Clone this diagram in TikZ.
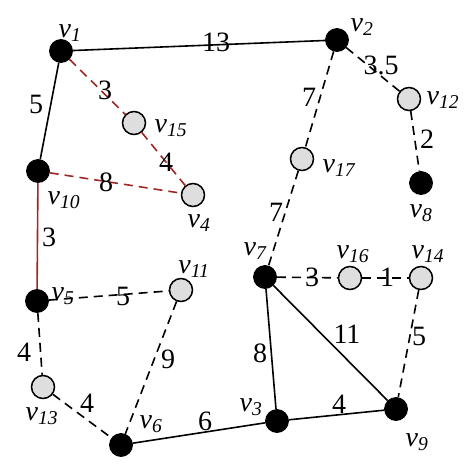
\documentclass[tikz,border=0pt]{standalone}
\usepackage{fontspec}
\setmainfont{Liberation Serif}
\begin{document}
\begin{tikzpicture}[x=1pt,y=-1pt,
  blk/.style={circle, fill=black, draw=black, line width=0.8pt, minimum size=23pt, inner sep=0pt},
  gry/.style={circle, fill=black!13, draw=black, line width=1.5pt, minimum size=23pt, inner sep=0pt},
  lbl/.style={font=\fontsize{28}{30}\selectfont\itshape, inner sep=0pt},
  wt/.style={font=\fontsize{28}{30}\selectfont, inner sep=0pt},
  sol/.style={line width=1.6pt, black},
  dsh/.style={line width=1.6pt, black, dash pattern=on 9pt off 6pt},
  rsol/.style={line width=1.6pt, draw=red!55!black!85},
  rdsh/.style={line width=1.6pt, draw=red!55!black!85, dash pattern=on 9pt off 6pt}]
\useasboundingbox (0,0) rectangle (474,474);
% nodes
\node[blk] (v1) at (61,51) {};
\node[blk] (v2) at (337,40) {};
\node[blk] (v10) at (38,171) {};
\node[gry] (v15) at (134,123) {};
\node[gry] (v4) at (193,195) {};
\node[gry] (v12) at (409,99) {};
\node[gry] (v17) at (302,159) {};
\node[blk] (v8) at (421,183) {};
\node[blk] (v5) at (37,301) {};
\node[gry] (v11) at (181,290) {};
\node[gry] (v13) at (43,387) {};
\node[blk] (v6) at (121,445) {};
\node[blk] (v7) at (265,277) {};
\node[gry] (v16) at (350,278) {};
\node[gry] (v14) at (421,278) {};
\node[blk] (v3) at (277,421) {};
\node[blk] (v9) at (396,409) {};
% edges
\draw[sol] (v1) -- (v2);
\draw[sol] (v1) -- (v10);
\draw[rdsh] (v1) -- (v15);
\draw[rdsh] (v15) -- (v4);
\draw[rdsh] (v10) -- (v4);
\draw[rsol] (v10) -- (v5);
\draw[dsh] (v2) -- (v17);
\draw[dsh] (v2) -- (v12);
\draw[dsh] (v12) -- (v8);
\draw[dsh] (v17) -- (v7);
\draw[dsh] (v5) -- (v11);
\draw[dsh] (v5) -- (v13);
\draw[dsh] (v11) -- (v6);
\draw[dsh] (v13) -- (v6);
\draw[sol] (v6) -- (v3);
\draw[dsh] (v7) -- (v16);
\draw[dsh] (v16) -- (v14);
\draw[sol] (v7) -- (v9);
\draw[sol] (v7) -- (v3);
\draw[sol] (v3) -- (v9);
\draw[dsh] (v14) -- (v9);
% node labels
\node[lbl] (l1) at (70,33) {v\textsubscript{1}};
\node[lbl] (l2) at (362,27) {v\textsubscript{2}};
\node[lbl] (l10) at (64,200) {v\textsubscript{10}};
\node[lbl] (l15) at (171,128) {v\textsubscript{15}};
\node[lbl] (l4) at (199,223) {v\textsubscript{4}};
\node[lbl] (l12) at (443,100) {v\textsubscript{12}};
\node[lbl] (l17) at (339,168) {v\textsubscript{17}};
\node[lbl] (l8) at (421,213) {v\textsubscript{8}};
\node[lbl] (l5) at (63,296) {v\textsubscript{5}};
\node[lbl] (l11) at (194,269) {v\textsubscript{11}};
\node[lbl] (l13) at (42,416) {v\textsubscript{13}};
\node[lbl] (l6) at (151,424) {v\textsubscript{6}};
\node[lbl] (l7) at (255,251) {v\textsubscript{7}};
\node[lbl] (l16) at (353,254) {v\textsubscript{16}};
\node[lbl] (l14) at (428,254) {v\textsubscript{14}};
\node[lbl] (l3) at (251,407) {v\textsubscript{3}};
\node[lbl] (l9) at (417,442) {v\textsubscript{9}};
% edge weights
\node[wt] (w1) at (216,42) {13};
\node[wt] (w2) at (36,104) {5};
\node[wt] (w3) at (105,90) {3};
\node[wt] (w4) at (166,162) {4};
\node[wt] (w5) at (106,182) {8};
\node[wt] (w6) at (49,237) {3};
\node[wt] (w7) at (309,97) {7};
\node[wt] (w8) at (381,65) {3.5};
\node[wt] (w9) at (427,139) {2};
\node[wt] (w10) at (276,212) {7};
\node[wt] (w11) at (123,296) {5};
\node[wt] (w12) at (24,352) {4};
\node[wt] (w13) at (168,359) {9};
\node[wt] (w14) at (87,403) {4};
\node[wt] (w15) at (205,421) {6};
\node[wt] (w16) at (312,277) {3};
\node[wt] (w17) at (387,277) {1};
\node[wt] (w18) at (347,334) {11};
\node[wt] (w19) at (419,336) {5};
\node[wt] (w20) at (260,353) {8};
\node[wt] (w21) at (339,404) {4};
\end{tikzpicture}
\end{document}
